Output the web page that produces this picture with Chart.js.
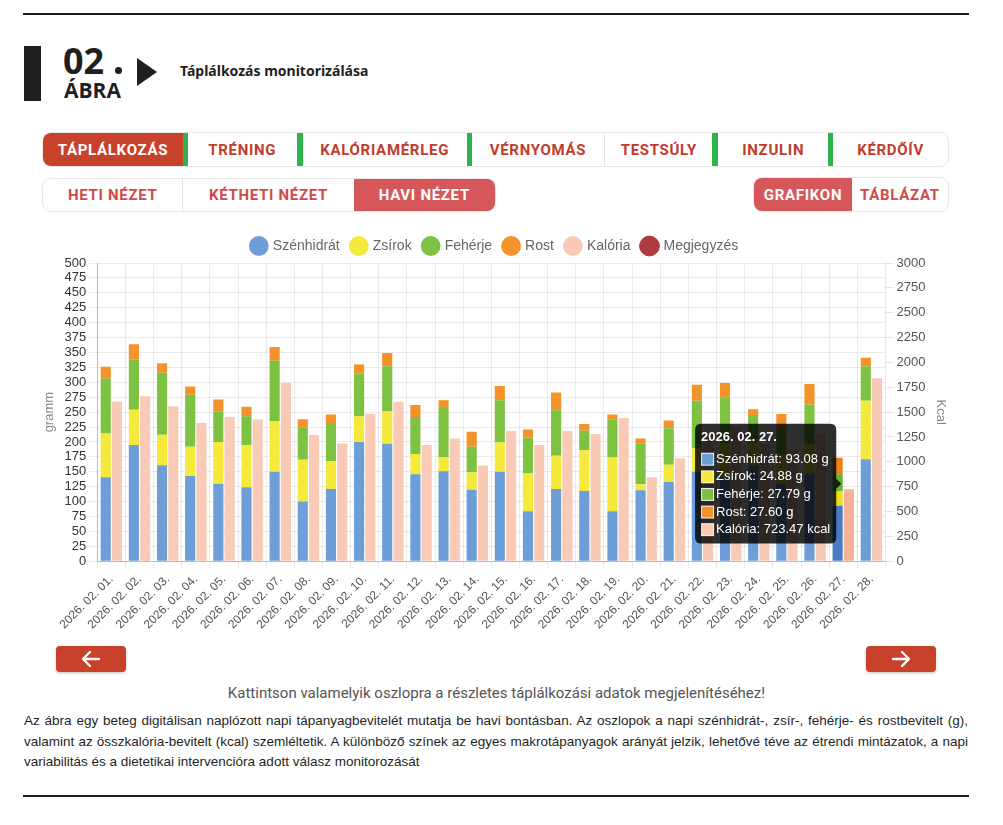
<!DOCTYPE html>
<html lang="hu">
<head>
<meta charset="utf-8">
<title>Táplálkozás monitorizálása</title>
<script src="https://cdn.jsdelivr.net/npm/chart.js@4.4.1/dist/chart.umd.min.js"></script>
<style>
  html, body { margin: 0; padding: 0; background: #fff; }
  body { width: 1003px; height: 825px; position: relative; overflow: hidden; font-family: "Liberation Sans", Arial, sans-serif; }
  .rule { position: absolute; left: 23px; width: 946px; height: 2px; background: #1f1f1f; }
  .blk { position: absolute; left: 24px; top: 46px; width: 17px; height: 55px; background: #1f1f1f; }
  .num { position: absolute; left: 63px; top: 43px; font: 700 36px/1 "Open Sans", "Noto Sans", sans-serif; color: #1f1f1f; }
  .dot { position: absolute; left: 115px; top: 67px; width: 7px; height: 7px; background: #1f1f1f; border-radius: 50%; }
  .abra { position: absolute; left: 64px; top: 80px; font: 700 21px/1 "Open Sans", "Noto Sans", sans-serif; color: #1f1f1f; }
  .tri { position: absolute; left: 137px; top: 58px; width: 0; height: 0; border-top: 14px solid transparent; border-bottom: 14px solid transparent; border-left: 20px solid #1f1f1f; }
  .ttl { position: absolute; left: 180px; top: 61px; font: 700 14px "Noto Sans", "Open Sans", sans-serif; color: #1f1f1f; }
  .bar { position: absolute; display: flex; border: 1px solid #e8e8e8; border-radius: 9px; overflow: hidden; box-sizing: border-box; background: #fff; }
  .tab { display: flex; align-items: center; justify-content: center; font: 700 15px Roboto, sans-serif; letter-spacing: 0.7px; color: #c23b2c; box-sizing: border-box; }
  .row1 .on { background: #c8412a; color: #fff; }
  .row2 .tab { color: #d04a4a; }
  .row2 .on { background: #d6575a; color: #fff; }
  .sep-g { width: 5px; background: #2db34a; }
  .sep-l { width: 1px; background: #e3e3e3; }
  #wrap { position: absolute; left: 38px; top: 227px; width: 914px; height: 408px; }
  .arr { position: absolute; top: 646px; width: 70px; height: 26px; background: #c8412a; border-radius: 4px; box-shadow: 0 1px 3px rgba(0,0,0,0.25); }
  .arr svg { position: absolute; left: 25px; top: 4px; }
  .hint { position: absolute; left: 0; width: 993px; top: 684px; text-align: center; font: 15px Roboto, sans-serif; color: #555; }
  .cap { position: absolute; left: 24px; top: 711px; width: 944px; font: 13.5px "Liberation Sans Narrow", "Liberation Sans", sans-serif; line-height: 20.5px; color: #1f1f1f; text-align: justify; }
</style>
</head>
<body>
<div class="rule" style="top:13px"></div>
<div class="blk"></div>
<div class="num">02</div>
<div class="dot"></div>
<div class="abra">ÁBRA</div>
<div class="tri"></div>
<div class="ttl">Táplálkozás monitorizálása</div>

<div class="bar row1" style="left:42px;top:132px;width:907px;height:35px">
  <div class="tab on" style="width:140px">TÁPLÁLKOZÁS</div><div class="sep-g"></div>
  <div class="tab" style="width:109px">TRÉNING</div><div class="sep-g" style="width:6px"></div>
  <div class="tab" style="width:164px">KALÓRIAMÉRLEG</div><div class="sep-g"></div>
  <div class="tab" style="width:133px">VÉRNYOMÁS</div><div class="sep-l"></div>
  <div class="tab" style="width:107px">TESTSÚLY</div><div class="sep-g" style="width:6px"></div>
  <div class="tab" style="width:110px">INZULIN</div><div class="sep-g"></div>
  <div class="tab" style="width:115px">KÉRDŐÍV</div>
</div>

<div class="bar row2" style="left:42px;top:178px;width:454px;height:34px">
  <div class="tab" style="width:140px">HETI NÉZET</div><div class="sep-l"></div>
  <div class="tab" style="width:171px">KÉTHETI NÉZET</div>
  <div class="tab on" style="width:142px">HAVI NÉZET</div>
</div>
<div class="bar row2" style="left:753px;top:177px;width:196px;height:35px">
  <div class="tab on" style="width:99px">GRAFIKON</div>
  <div class="tab" style="width:97px">TÁBLÁZAT</div>
</div>

<div id="wrap"><canvas id="chart"></canvas></div>

<div class="arr" style="left:56px"><svg width="20" height="18" viewBox="0 0 20 18"><path d="M18 9H3M9 2L2 9l7 7" fill="none" stroke="#fff" stroke-width="2.4" stroke-linecap="round" stroke-linejoin="round"/></svg></div>
<div class="arr" style="left:866px"><svg width="20" height="18" viewBox="0 0 20 18"><path d="M2 9h15M11 2l7 7-7 7" fill="none" stroke="#fff" stroke-width="2.4" stroke-linecap="round" stroke-linejoin="round"/></svg></div>

<div class="hint">Kattintson valamelyik oszlopra a részletes táplálkozási adatok megjelenítéséhez!</div>

<div class="cap">Az ábra egy beteg digitálisan naplózott napi tápanyagbevitelét mutatja be havi bontásban. Az oszlopok a napi szénhidrát-, zsír-, fehérje- és rostbevitelt (g), valamint az összkalória-bevitelt (kcal) szemléltetik. A különböző színek az egyes makrotápanyagok arányát jelzik, lehetővé téve az étrendi mintázatok, a napi variabilitás és a dietetikai intervencióra adott válasz monitorozását</div>

<div class="rule" style="top:795px"></div>

<script>
  // Daily values (g and kcal)
  const days = [
    '2026. 02. 01.','2026. 02. 02.','2026. 02. 03.','2026. 02. 04.','2026. 02. 05.','2026. 02. 06.','2026. 02. 07.',
    '2026. 02. 08.','2026. 02. 09.','2026. 02. 10.','2026. 02. 11.','2026. 02. 12.','2026. 02. 13.','2026. 02. 14.',
    '2026. 02. 15.','2026. 02. 16.','2026. 02. 17.','2026. 02. 18.','2026. 02. 19.','2026. 02. 20.','2026. 02. 21.',
    '2026. 02. 22.','2026. 02. 23.','2026. 02. 24.','2026. 02. 25.','2026. 02. 26.','2026. 02. 27.','2026. 02. 28.'
  ];
  const carbs    = [141, 195, 161, 143, 130, 124, 150, 100, 121, 200, 197, 146, 151, 120, 150, 84, 121, 118, 84, 119, 133, 150, 140, 160, 130, 146, 93.08, 171];
  const fats     = [73, 59, 51, 49, 70, 71, 85, 70, 47, 43, 54, 34, 24, 29, 49, 63, 56, 68, 90, 10, 29, 40, 58, 40, 50, 50, 24.88, 98];
  const proteins = [92, 84, 104, 87, 51, 48, 101, 54, 64, 72, 76, 62, 82, 43, 71, 60, 76, 33, 64, 69, 61, 79, 77, 45, 40, 67, 27.79, 58];
  const fibers   = [20, 26, 16, 14, 20, 16, 23, 14, 14, 15, 22, 20, 13, 25, 24, 14, 30, 11, 8, 8, 13, 27, 24, 10, 27, 34, 27.60, 14];
  const kcals    = [1605, 1660, 1560, 1390, 1450, 1425, 1795, 1270, 1185, 1485, 1605, 1170, 1235, 960, 1310, 1170, 1310, 1280, 1440, 845, 1035, 1280, 1360, 1180, 1130, 1280, 723.47, 1840];
  const notes    = []; // Megjegyzés: no entries this month

  const activeDay = 26; // 2026. 02. 27. shown with tooltip

  Chart.defaults.font.family = '"Liberation Sans", Arial, sans-serif';
  Chart.defaults.color = '#666';

  function macro(label, data, color, hover){
    return { label, data, backgroundColor: color, hoverBackgroundColor: hover, borderWidth: 0,
             stack: 'makro', yAxisID: 'y', unit: 'g' };
  }

  const ctx = document.getElementById('chart').getContext('2d');
  const chart = new Chart(ctx, {
    type: 'bar',
    data: {
      labels: days,
      datasets: [
        macro('Szénhidrát', carbs, '#6e9ed8', '#4a7ac6'),
        macro('Zsírok', fats, '#f5e93c', '#efdc1f'),
        macro('Fehérje', proteins, '#7dc243', '#66b332'),
        macro('Rost', fibers, '#f4932a', '#e8801b'),
        { label: 'Kalória', data: kcals, backgroundColor: '#f9cab6', hoverBackgroundColor: '#f5b296', borderWidth: 0,
          stack: 'kcal', yAxisID: 'y1', unit: 'kcal' },
        { type: 'line', label: 'Megjegyzés', data: notes, backgroundColor: '#b03a3e', borderColor: '#b03a3e',
          showLine: false, yAxisID: 'y' }
      ]
    },
    options: {
      responsive: true,
      maintainAspectRatio: false,
      animation: false,
      events: [],
      plugins: {
        legend: {
          position: 'top',
          labels: { usePointStyle: true, pointStyle: 'circle', font: { size: 14 }, color: '#666', padding: 12 }
        },
        tooltip: {
          backgroundColor: 'rgba(0,0,0,0.82)',
          titleFont: { size: 13, weight: 'bold' },
          bodyFont: { size: 13 },
          padding: 6,
          cornerRadius: 6,
          filter: item => item.datasetIndex < 5,
          callbacks: {
            label: c => c.dataset.label + ': ' + c.parsed.y.toFixed(2) + ' ' + c.dataset.unit
          }
        }
      },
      scales: {
        x: {
          grid: { color: 'rgba(0,0,0,0.08)' },
          border: { color: '#bbb' },
          ticks: { minRotation: 45, maxRotation: 45, font: { size: 12 }, color: '#555', autoSkip: false }
        },
        y: {
          stacked: true, min: 0, max: 500, position: 'left',
          title: { display: true, text: 'gramm', color: '#888', font: { size: 13 } },
          grid: { color: 'rgba(0,0,0,0.08)' },
          border: { color: '#bbb' },
          ticks: { stepSize: 25, font: { size: 13 }, color: '#333', autoSkip: false }
        },
        y1: {
          min: 0, max: 3000, position: 'right',
          title: { display: true, text: 'Kcal', color: '#888', font: { size: 13 } },
          grid: { drawOnChartArea: false },
          border: { display: false },
          ticks: { stepSize: 250, font: { size: 13 }, color: '#555', callback: v => String(v) }
        }
      }
    }
  });

  // show the hovered state for the selected day
  const active = [0, 1, 2, 3, 4].map(i => ({ datasetIndex: i, index: activeDay }));
  chart.setActiveElements(active);
  chart.tooltip.setActiveElements(active, { x: 0, y: 0 });
  chart.update();
</script>
</body>
</html>
